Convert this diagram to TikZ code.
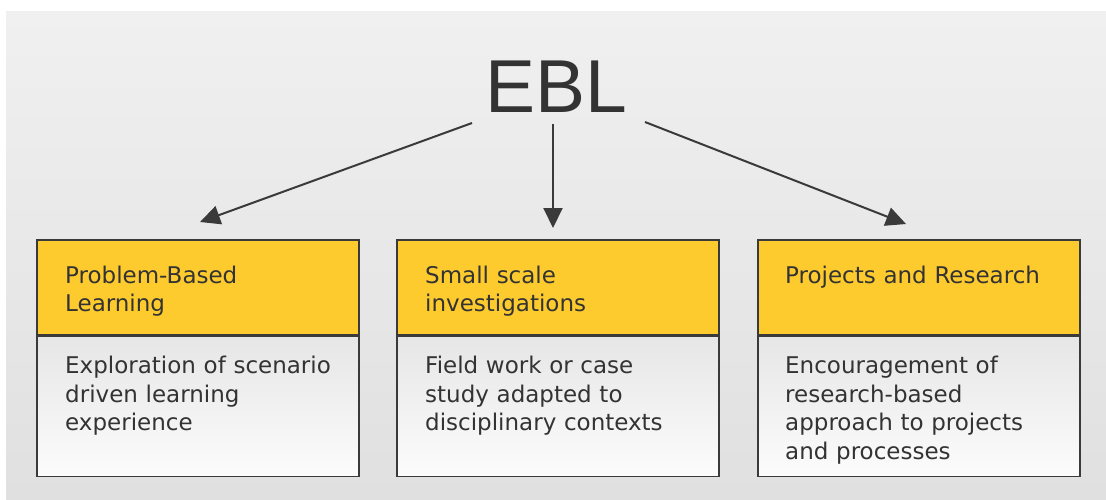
\documentclass[tikz,border=0pt]{standalone}
\usepackage{fontspec}
\usetikzlibrary{arrows.meta,positioning}
\newfontfamily\eblfont{Liberation Sans}
\newfontfamily\boxfont{DejaVu Sans}
\definecolor{headyellow}{HTML}{FECB2F}
\definecolor{linegray}{HTML}{3A3A3A}
\definecolor{textgray}{HTML}{333333}
\definecolor{paneltop}{HTML}{F0F0F0}
\definecolor{panelbottom}{HTML}{E0E0E0}
\definecolor{bodytop}{HTML}{E6E6E6}
\definecolor{bodybottom}{HTML}{FCFCFC}

\begin{document}
\begin{tikzpicture}[x=1pt, y=-1pt,
    head/.style={draw=linegray, line width=1.5pt, fill=headyellow,
      minimum width=322pt, minimum height=95pt, inner sep=0pt, anchor=north west},
    body/.style={draw=linegray, line width=1.5pt, top color=bodytop, bottom color=bodybottom,
      minimum width=322pt, minimum height=140pt, inner sep=0pt},
    boxtext/.style={text=textgray, font=\boxfont\fontsize{23}{28.5}\selectfont,
      text width=300pt, align=left, inner sep=0pt, anchor=north west},
    link/.style={-{Triangle[length=20pt, width=19pt]}, draw=linegray, line width=2pt}]
    \useasboundingbox (0,0) rectangle (1106,499);
    \fill[white] (0,0) rectangle (1106,499);
    \shade[top color=paneltop, bottom color=panelbottom] (6,11) rectangle (1106,499);

    % title
    \node[text=textgray, font=\eblfont\fontsize{75}{75}\selectfont, anchor=base] (ebl) at (556,112) {EBL};

    % three boxes
    \node[head] (pbl) at (36,239) {};
    \node[body, below=0pt of pbl] (pblbody) {};
    \node[boxtext] (pbltext) at ([xshift=29pt, yshift=-26.5pt] pbl.north west) {Problem-Based\\Learning};
    \node[boxtext] (pblbodytext) at ([xshift=29pt, yshift=-20.5pt] pblbody.north west) {Exploration of scenario\\driven learning\\experience};

    \node[head] (ssi) at (396,239) {};
    \node[body, below=0pt of ssi] (ssibody) {};
    \node[boxtext] (ssitext) at ([xshift=29pt, yshift=-26.5pt] ssi.north west) {Small scale\\investigations};
    \node[boxtext] (ssibodytext) at ([xshift=29pt, yshift=-20.5pt] ssibody.north west) {Field work or case\\study adapted to\\disciplinary contexts};

    \node[head] (pr) at (757,239) {};
    \node[body, below=0pt of pr] (prbody) {};
    \node[boxtext] (prtext) at ([xshift=28pt, yshift=-26.5pt] pr.north west) {Projects and Research};
    \node[boxtext] (prbodytext) at ([xshift=28pt, yshift=-20.5pt] prbody.north west) {Encouragement of\\research-based\\approach to projects\\and processes};

    % arrows
    \coordinate (eblleft) at (472,123);
    \coordinate (eblmid) at (553,124);
    \coordinate (eblright) at (645,122);
    \coordinate (pblin) at (200,222);
    \coordinate (ssiin) at (553,228);
    \coordinate (prin) at (906,224);
    \draw[link] (eblleft) -- (pblin);
    \draw[link] (eblmid) -- (ssiin);
    \draw[link] (eblright) -- (prin);
\end{tikzpicture}
\end{document}
